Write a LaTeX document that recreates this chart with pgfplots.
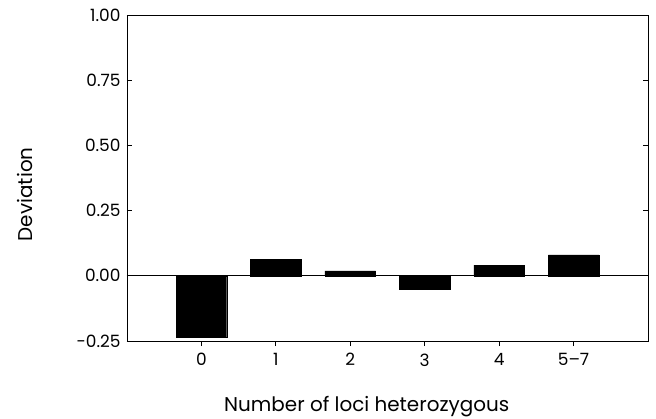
\documentclass[border=0pt]{standalone}
\usepackage{fontspec}
\setmainfont{Poppins}
\usepackage{pgfplots}
\pgfplotsset{compat=1.18}
\begin{document}
\begin{tikzpicture}
\begin{axis}[
  scale only axis,
  width=521bp, height=326bp,
  xmin=-1, xmax=6,
  ymin=-0.25, ymax=1.0,
  xtick={0,1,2,3,4,5},
  xticklabels={0,1,2,3,4,5--7},
  ytick={-0.25,0,0.25,0.5,0.75,1.0},
  yticklabel style={/pgf/number format/fixed, /pgf/number format/fixed zerofill, /pgf/number format/precision=2},
  /pgf/number format/assume math mode=true,
  tick align=inside,
  major tick length=5bp,
  xtick pos=bottom,
  ytick pos=both,
  tick label style={font=\fontsize{17}{17}\selectfont},
  ticklabel style={black},
  label style={font=\fontsize{20}{20}\selectfont},
  xlabel={Number of loci heterozygous},
  ylabel={Deviation},
  xlabel style={at={(axis description cs:0.46,0)}, anchor=center, yshift=-66bp},
  ylabel style={at={(axis description cs:-0.196,0.45)}, anchor=center},
  xticklabel style={yshift=-4bp},
  yticklabel style={xshift=-3bp},
  axis line style={line width=0.8pt},
  every tick/.style={black, line width=0.8pt},
  ybar, bar width=0.68,
]
\addplot[fill=black, draw=black] coordinates {(0,-0.235) (1,0.063) (2,0.019) (3,-0.05) (4,0.041) (5,0.080)};
\draw[line width=0.8pt] ({rel axis cs:0,0}|-{axis cs:0,0}) -- ({rel axis cs:1,0}|-{axis cs:0,0});
\end{axis}
\pgfresetboundingbox
\path (current axis.south west) ++(-127bp,-78bp) coordinate (bl);
\path (current axis.north east) ++(8bp,15bp) coordinate (tr);
\path (bl) rectangle (tr);
\end{tikzpicture}
\end{document}
